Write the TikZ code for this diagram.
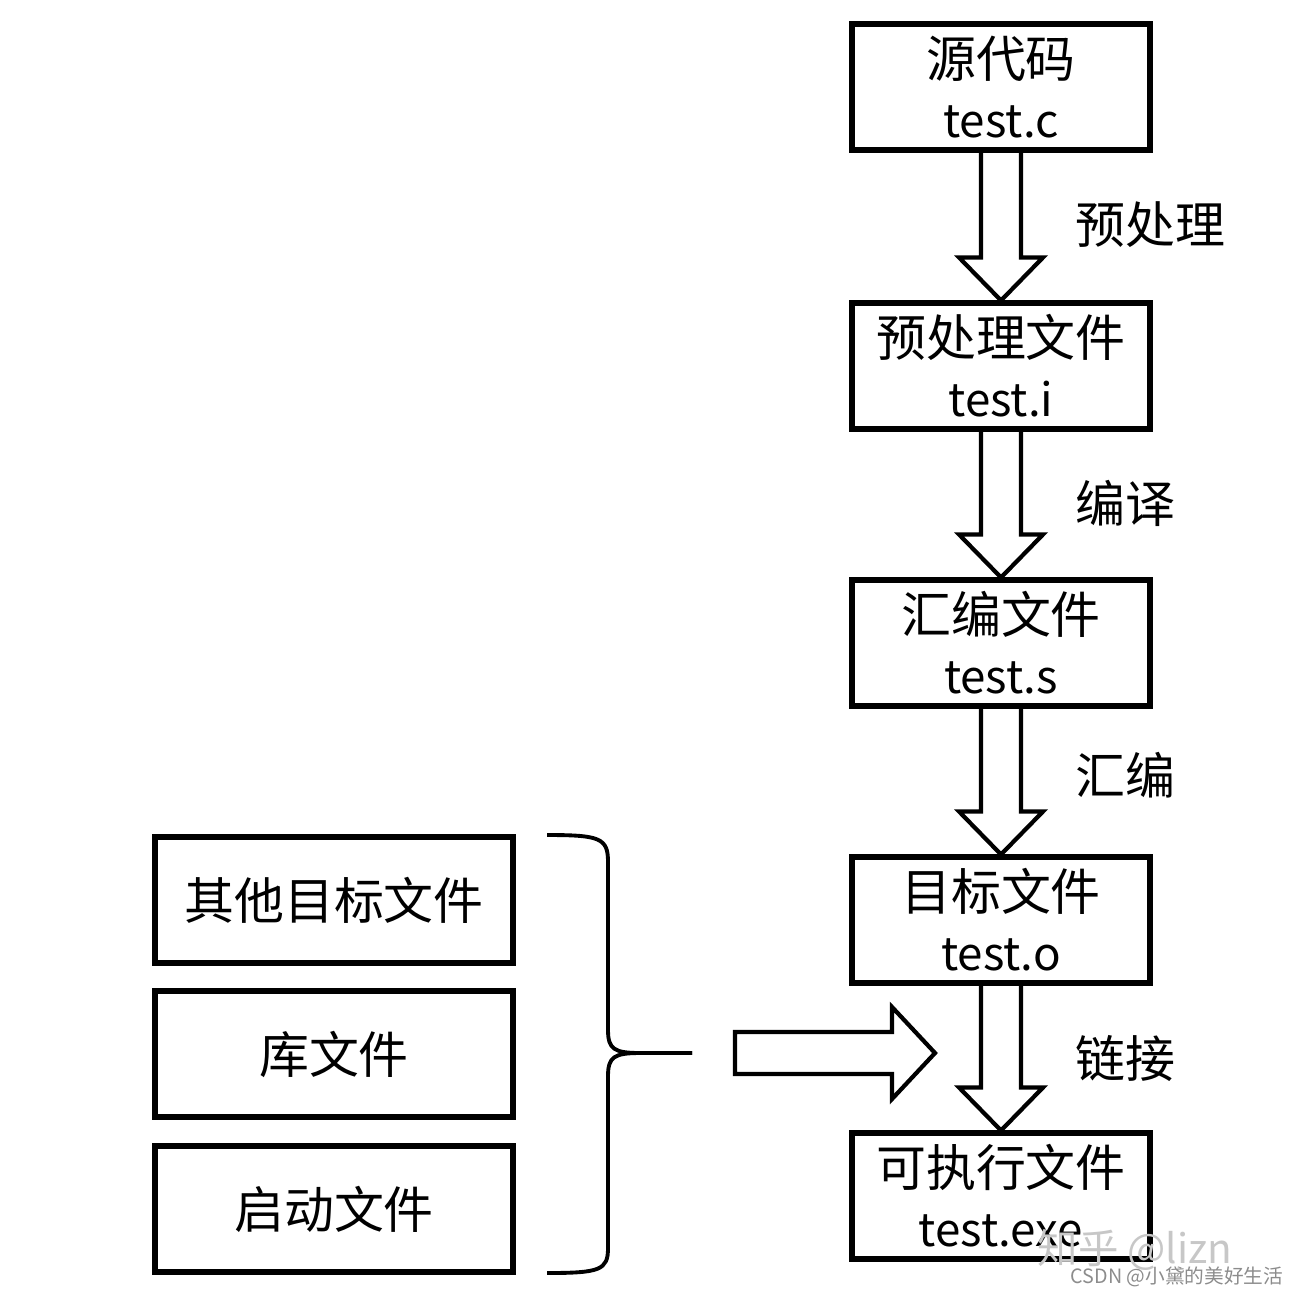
\documentclass[tikz,border=0pt]{standalone}
\usepackage{fontspec}
\setmainfont{Noto Sans CJK SC}
\usetikzlibrary{calc}
\tikzset{
    filebox/.style={draw, line width=1.7pt, minimum width=2.98cm, minimum height=1.25cm,
        inner sep=0pt, align=center, font=\fontsize{14.2pt}{17pt}\selectfont},
    sidebox/.style={filebox, minimum width=3.57cm, minimum height=1.26cm},
    steplabel/.style={anchor=west, inner sep=0pt, font=\fontsize{14.2pt}{17pt}\selectfont},
    hollow/.style={line width=1.2pt, line join=miter},
    braceline/.style={line width=1.1pt}
}
% file name under the kind of file, a little smaller
\newcommand{\fname}[1]{{\fontsize{13pt}{17pt}\selectfont #1}}
% hollow arrow from the bottom of one box to the top of the next
\newcommand{\hollowdown}[2]{
    \draw[hollow] ($(#1.south)+(-20,0)$) -- ($(#2.north)+(-20,-43)$) -- ++(-22,0)
        -- (#2.north) -- ($(#2.north)+(42,-43)$) -- ++(-22,0) -- ($(#1.south)+(20,0)$);
}

\begin{document}
\begin{tikzpicture}[x=0.01cm, y=-0.01cm]

    \useasboundingbox (0,0) rectangle (1298,1294);

    % Draw the chain of files on the right
    \node[filebox] (src) at (1001,87) {源代码\\\fname{test.c}};
    \node[filebox] (pre) at (1001,366) {预处理文件\\\fname{test.i}};
    \node[filebox] (asm) at (1001,643) {汇编文件\\\fname{test.s}};
    \node[filebox] (obj) at (1001,920) {目标文件\\\fname{test.o}};
    \node[filebox] (exe) at (1001,1196) {可执行文件\\\fname{test.exe}};

    % Draw the steps between them
    \hollowdown{src}{pre}
    \hollowdown{pre}{asm}
    \hollowdown{asm}{obj}
    \hollowdown{obj}{exe}

    \node[steplabel] (lpre) at (1075,225) {预处理};
    \node[steplabel] (lcomp) at (1075,503) {编译};
    \node[steplabel] (lasm) at (1075,775) {汇编};
    \node[steplabel] (llink) at (1075,1058) {链接};

    % Draw the other inputs of the linker
    \node[sidebox] (other) at (334,900) {其他目标文件};
    \node[sidebox] (lib) at (334,1054) {库文件};
    \node[sidebox] (start) at (334,1209) {启动文件};

    % Draw the brace round them
    \coordinate (bracetop) at (547,835);
    \coordinate (bracetip) at (692,1053);
    \coordinate (bracebot) at (547,1273);
    \draw[braceline] (bracetop) .. controls (600,835) and (608,838) .. (608,862)
        -- (608,1030) .. controls (608,1049) and (614,1053) .. (640,1053) -- (bracetip);
    \draw[braceline] (bracetip) -- (640,1053) .. controls (614,1053) and (608,1057) .. (608,1076)
        -- (608,1248) .. controls (608,1270) and (600,1273) .. (bracebot);

    % Draw the fat arrow into the link step
    \coordinate (tail) at (735,1053);
    \coordinate (tip) at (935,1053);
    \draw[hollow] ($(tail)+(0,-21)$) -- ($(tip)+(-43,-21)$) -- ++(0,-25) -- (tip)
        -- ($(tip)+(-43,46)$) -- ++(0,-25) -- ($(tail)+(0,21)$) -- cycle;

    % Watermarks
    \node[text=black!22, inner sep=0pt, font=\fontsize{11.5pt}{13pt}\selectfont] (zhihu) at (1135,1250) {知乎 @lizn};
    \node[text=black!45, inner sep=0pt, font=\fontsize{5.6pt}{7pt}\selectfont] (csdn) at (1177,1277) {CSDN @小黛的美好生活};

\end{tikzpicture}
\end{document}
